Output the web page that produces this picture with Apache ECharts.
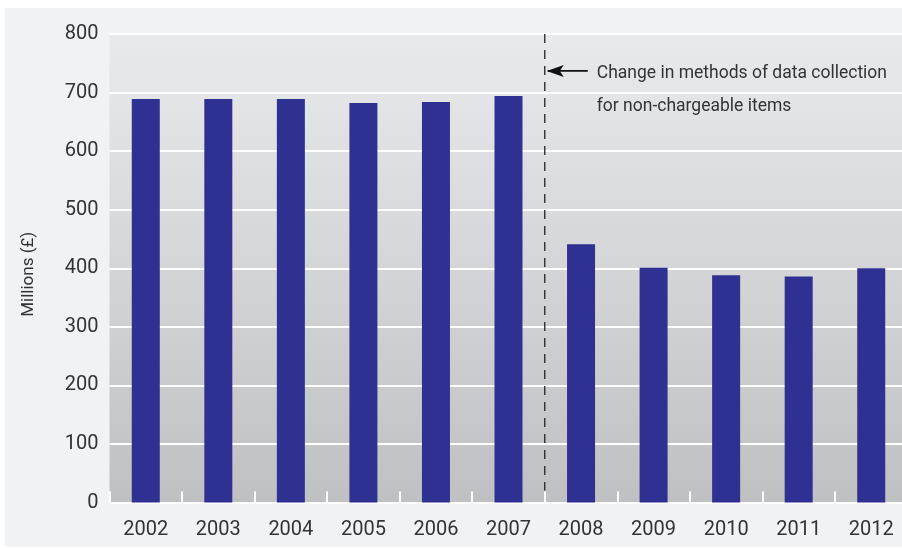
<!DOCTYPE html>
<html><head><meta charset="utf-8">
<script src="https://cdn.jsdelivr.net/npm/echarts@6/dist/echarts.min.js"></script>
<style>html,body{margin:0;padding:0;background:#fff;overflow:hidden;width:902px;height:548px}#c{width:910px;height:548px}</style>
</head><body><div id="c"></div>
<script>
const categories = ['2002','2003','2004','2005','2006','2007','2008','2009','2010','2011','2012'];
const values = [689, 689, 689, 682, 684, 694, 441, 401, 388, 386, 400];
const yTicks = {min: 0, max: 800, interval: 100};
const yName = 'Millions (£)';
const noteLines = ['Change in methods of data collection', 'for non-chargeable items'];
const breakAfter = '2007', breakBefore = '2008';

const FONT = 'Roboto';
const chart = echarts.init(document.getElementById('c'), null, {renderer: 'canvas'});
const panel = {type: 'rect', z: -10, shape: {x: 5, y: 8, width: 905, height: 539}, style: {fill: '#f1f2f4'}};
chart.setOption({
  backgroundColor: '#ffffff',
  animation: false,
  graphic: [panel],
  grid: {
    left: 109.5, top: 34, width: 798, height: 468.5, show: true, borderWidth: 0,
    backgroundColor: new echarts.graphic.LinearGradient(0, 0, 0, 1, [
      {offset: 0, color: '#e9eaec'}, {offset: 1, color: '#bfc0c2'}])
  },
  xAxis: {
    type: 'category', data: categories,
    axisLine: {show: false},
    axisTick: {show: true, inside: true, length: 11, lineStyle: {color: '#ffffff', width: 2}},
    axisLabel: {color: '#333', fontFamily: FONT, fontSize: 20, margin: 17}
  },
  yAxis: {
    type: 'value', min: yTicks.min, max: yTicks.max, interval: yTicks.interval,
    name: yName, nameLocation: 'middle', nameGap: 72, nameRotate: 90,
    nameTextStyle: {color: '#333', fontFamily: FONT, fontSize: 17, padding: [0, 12, 0, 0]},
    axisLine: {show: false}, axisTick: {show: false},
    axisLabel: {color: '#333', fontFamily: FONT, fontSize: 20, margin: 11},
    splitLine: {lineStyle: {color: '#ffffff', width: 2}}
  },
  series: [{type: 'bar', data: values, barWidth: 28, itemStyle: {color: '#2e3092'}}]
});

// annotation: dashed divider between categories + arrow + note
const xa = chart.convertToPixel({xAxisIndex: 0}, breakAfter);
const xb = chart.convertToPixel({xAxisIndex: 0}, breakBefore);
const xBreak = (xa + xb) / 2;
const yTop = chart.convertToPixel({yAxisIndex: 0}, yTicks.max);
const yBot = chart.convertToPixel({yAxisIndex: 0}, yTicks.min);
const yNote = chart.convertToPixel({yAxisIndex: 0}, 737);
chart.setOption({
  graphic: [
    panel,
    {type: 'line', z: 50, shape: {x1: xBreak, y1: yTop, x2: xBreak, y2: yBot - 12},
      style: {stroke: '#222', lineWidth: 1.3, lineDash: [9, 7]}},
    {type: 'line', z: 50, shape: {x1: xBreak + 3, y1: yNote, x2: xBreak + 43, y2: yNote},
      style: {stroke: '#111', lineWidth: 1.6}},
    {type: 'polygon', z: 50, shape: {points: [[xBreak + 2, yNote], [xBreak + 19, yNote - 6], [xBreak + 15, yNote], [xBreak + 19, yNote + 6]]},
      style: {fill: '#111'}},
    {type: 'text', z: 50, x: xBreak + 52, y: yNote - 14,
      style: {text: noteLines.join('\n'), fill: '#333', font: '17.5px ' + FONT, lineHeight: 33, verticalAlign: 'top'}}
  ]
});
</script></body></html>
